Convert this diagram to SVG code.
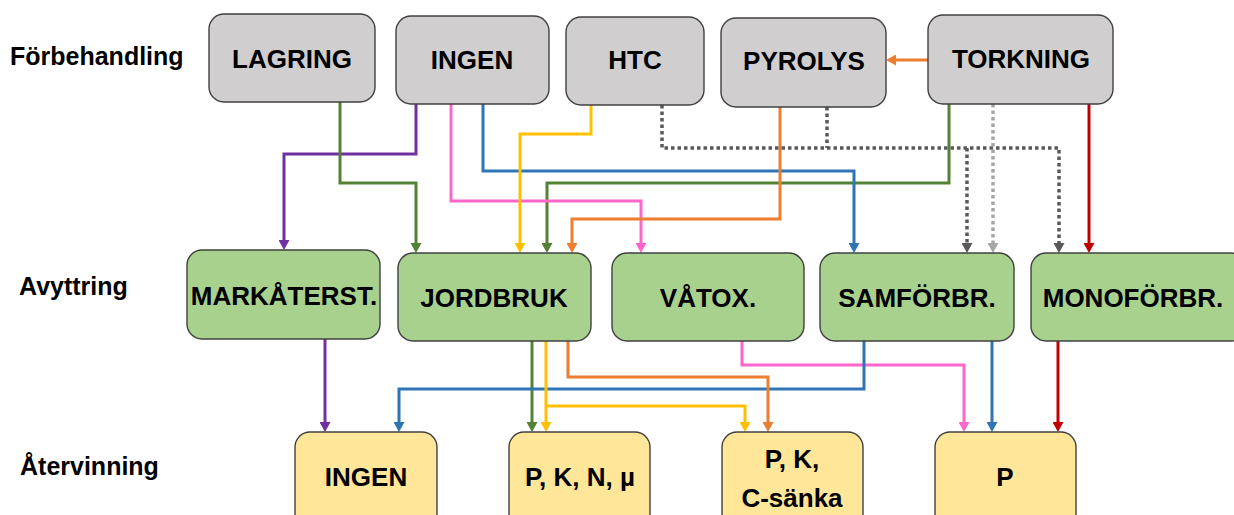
<svg xmlns="http://www.w3.org/2000/svg" width="1234" height="515" viewBox="0 0 1234 515">
<style>
  .box{stroke:#404040;stroke-width:1.4}
  .pre{fill:#D0CECE}
  .dis{fill:#A9D18E}
  .rec{fill:#FFE699}
  .t{font-family:"Liberation Sans",Arial,sans-serif;font-weight:bold;font-size:26px;fill:#000;text-anchor:middle}
  .lbl{font-family:"Liberation Sans",Arial,sans-serif;font-weight:bold;font-size:25px;fill:#000}
  .c{fill:none;stroke-width:3;stroke-linejoin:miter}
  .dot{fill:none;stroke-width:3.5;stroke-dasharray:3.5 3}
</style>
<defs>
  <marker id="aPurple" markerUnits="userSpaceOnUse" viewBox="0 0 10 11" markerWidth="10" markerHeight="11" refX="1" refY="5.5" orient="auto"><path d="M0,0 L10,5.5 L0,11 z" fill="#7030A0"/></marker>
  <marker id="aGreen" markerUnits="userSpaceOnUse" viewBox="0 0 10 11" markerWidth="10" markerHeight="11" refX="1" refY="5.5" orient="auto"><path d="M0,0 L10,5.5 L0,11 z" fill="#548235"/></marker>
  <marker id="aPink" markerUnits="userSpaceOnUse" viewBox="0 0 10 11" markerWidth="10" markerHeight="11" refX="1" refY="5.5" orient="auto"><path d="M0,0 L10,5.5 L0,11 z" fill="#FF66CC"/></marker>
  <marker id="aBlue" markerUnits="userSpaceOnUse" viewBox="0 0 10 11" markerWidth="10" markerHeight="11" refX="1" refY="5.5" orient="auto"><path d="M0,0 L10,5.5 L0,11 z" fill="#2E75B6"/></marker>
  <marker id="aYellow" markerUnits="userSpaceOnUse" viewBox="0 0 10 11" markerWidth="10" markerHeight="11" refX="1" refY="5.5" orient="auto"><path d="M0,0 L10,5.5 L0,11 z" fill="#FFC000"/></marker>
  <marker id="aOrange" markerUnits="userSpaceOnUse" viewBox="0 0 10 11" markerWidth="10" markerHeight="11" refX="1" refY="5.5" orient="auto"><path d="M0,0 L10,5.5 L0,11 z" fill="#ED7D31"/></marker>
  <marker id="aGray" markerUnits="userSpaceOnUse" viewBox="0 0 10 11" markerWidth="10" markerHeight="11" refX="1" refY="5.5" orient="auto"><path d="M0,0 L10,5.5 L0,11 z" fill="#595959"/></marker>
  <marker id="aLight" markerUnits="userSpaceOnUse" viewBox="0 0 10 11" markerWidth="10" markerHeight="11" refX="1" refY="5.5" orient="auto"><path d="M0,0 L10,5.5 L0,11 z" fill="#A6A6A6"/></marker>
  <marker id="aRed" markerUnits="userSpaceOnUse" viewBox="0 0 10 11" markerWidth="10" markerHeight="11" refX="1" refY="5.5" orient="auto"><path d="M0,0 L10,5.5 L0,11 z" fill="#C00000"/></marker>
</defs>
<rect width="1234" height="515" fill="#FFFFFF"/>

<g id="row-labels">
  <text class="lbl" x="10" y="65">Förbehandling</text>
  <text class="lbl" x="19" y="295">Avyttring</text>
  <text class="lbl" x="20" y="475">Återvinning</text>
</g>

<g id="connectors">
  <path class="c" stroke="#7030A0" d="M416,104 V154 H284 V241" marker-end="url(#aPurple)"/>
  <path class="c" stroke="#7030A0" d="M325,339 V423" marker-end="url(#aPurple)"/>
  <path class="c" stroke="#548235" d="M340,102 V183 H416 V244" marker-end="url(#aGreen)"/>
  <path class="c" stroke="#548235" d="M949,104 V183 H547 V244" marker-end="url(#aGreen)"/>
  <path class="c" stroke="#548235" d="M532,341 V423" marker-end="url(#aGreen)"/>
  <path class="c" stroke="#FF66CC" d="M451,104 V201 H641 V244" marker-end="url(#aPink)"/>
  <path class="c" stroke="#FF66CC" d="M742,341 V365 H964 V423" marker-end="url(#aPink)"/>
  <path class="c" stroke="#2E75B6" d="M483,104 V171 H854 V244" marker-end="url(#aBlue)"/>
  <path class="c" stroke="#2E75B6" d="M864,341 V389 H399 V423" marker-end="url(#aBlue)"/>
  <path class="c" stroke="#2E75B6" d="M992,341 V423" marker-end="url(#aBlue)"/>
  <path class="c" stroke="#FFC000" d="M591,105 V134 H520 V244" marker-end="url(#aYellow)"/>
  <path class="c" stroke="#FFC000" d="M546,341 V423" marker-end="url(#aYellow)"/>
  <path class="c" stroke="#FFC000" d="M546,406 H745 V423" marker-end="url(#aYellow)"/>
  <path class="c" stroke="#ED7D31" d="M928,60 H895" marker-end="url(#aOrange)"/>
  <path class="c" stroke="#ED7D31" d="M780,107 V219 H572 V244" marker-end="url(#aOrange)"/>
  <path class="c" stroke="#ED7D31" d="M568,341 V377 H768 V423" marker-end="url(#aOrange)"/>
  <path class="dot" stroke="#595959" d="M662,105 V148 H1059 V244" marker-end="url(#aGray)"/>
  <path class="dot" stroke="#595959" d="M827,107 V148"/>
  <path class="dot" stroke="#595959" d="M967,148 V244" marker-end="url(#aGray)"/>
  <path class="dot" stroke="#A6A6A6" d="M993,104 V244" marker-end="url(#aLight)"/>
  <path class="c" stroke="#C00000" d="M1089,104 V244" marker-end="url(#aRed)"/>
  <path class="c" stroke="#C00000" d="M1058,341 V423" marker-end="url(#aRed)"/>
</g>

<g id="n-lagring"><rect class="box pre" x="209" y="14" width="166" height="88" rx="15"/><text class="t" x="292" y="68">LAGRING</text></g>
<g id="n-ingen-pre"><rect class="box pre" x="396" y="16" width="153" height="88" rx="15"/><text class="t" x="472" y="69">INGEN</text></g>
<g id="n-htc"><rect class="box pre" x="566" y="17" width="138" height="88" rx="15"/><text class="t" x="635" y="69">HTC</text></g>
<g id="n-pyrolys"><rect class="box pre" x="721" y="18" width="165" height="89" rx="15"/><text class="t" x="804" y="70">PYROLYS</text></g>
<g id="n-torkning"><rect class="box pre" x="928" y="15" width="185" height="89" rx="15"/><text class="t" x="1021" y="68">TORKNING</text></g>

<g id="n-markaterst"><rect class="box dis" x="187" y="250" width="193" height="89" rx="15"/><text class="t" x="284" y="305">MARKÅTERST.</text></g>
<g id="n-jordbruk"><rect class="box dis" x="398" y="253" width="193" height="88" rx="15"/><text class="t" x="494" y="307">JORDBRUK</text></g>
<g id="n-vatox"><rect class="box dis" x="612" y="253" width="192" height="88" rx="15"/><text class="t" x="708" y="307">VÅTOX.</text></g>
<g id="n-samforbr"><rect class="box dis" x="820" y="253" width="194" height="88" rx="15"/><text class="t" x="917" y="307">SAMFÖRBR.</text></g>
<g id="n-monoforbr"><rect class="box dis" x="1031" y="253" width="215" height="88" rx="15"/><text class="t" x="1133" y="307">MONOFÖRBR.</text></g>

<g id="n-ingen-rec"><rect class="box rec" x="295" y="432" width="142" height="100" rx="15"/><text class="t" x="366" y="486">INGEN</text></g>
<g id="n-pknmu"><rect class="box rec" x="509" y="432" width="141" height="100" rx="15"/><text class="t" x="580" y="486">P, K, N, µ</text></g>
<g id="n-pkc"><rect class="box rec" x="722" y="432" width="141" height="100" rx="15"/><text class="t" x="792" y="468">P, K,</text><text class="t" x="792" y="507">C-sänka</text></g>
<g id="n-p"><rect class="box rec" x="935" y="432" width="141" height="100" rx="15"/><text class="t" x="1005" y="486">P</text></g>
</svg>
